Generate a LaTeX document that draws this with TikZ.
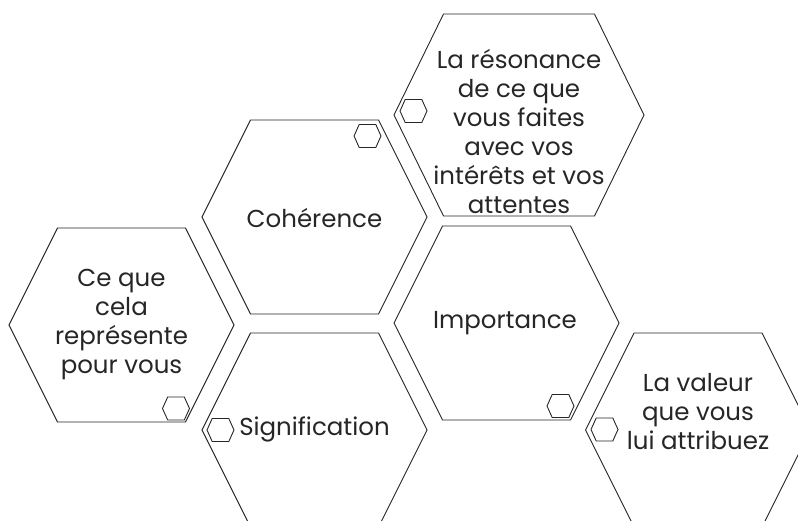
\documentclass[tikz,border=0pt]{standalone}
\usepackage{fontspec}
\setmainfont{Poppins}

\tikzset{
  bighex/.pic={
    \draw[hexline] (-112.5,0) -- (-64,-97) -- (64,-97) -- (112.5,0) -- (64,97) -- (-64,97) -- cycle;
  },
  widehex/.pic={
    \draw[hexline] (-125,0) -- (-75.5,-101) -- (75.5,-101) -- (125,0) -- (75.5,101) -- (-75.5,101) -- cycle;
  },
  tinyhex/.pic={
    \draw[hexline] (-13.5,0) -- (-8.3,-11.5) -- (8.3,-11.5) -- (13.5,0) -- (8.3,11.5) -- (-8.3,11.5) -- cycle;
  },
  hexline/.style={line width=0.9pt, black!85, line join=miter},
  label/.style={align=center, font=\fontsize{24.5}{29}\selectfont, text=black!85, inner sep=0pt}
}

\begin{document}
\begin{tikzpicture}[x=1pt,y=-1pt]
  \useasboundingbox (0,0) rectangle (798,521);
  \clip (0,0) rectangle (798,521);

  % big cells
  \pic at (314.5,217) {bighex};
  \pic at (121.5,325) {bighex};
  \pic at (519,115) {widehex};
  \pic at (506.5,323) {bighex};
  \pic at (314.5,430) {bighex};
  \pic at (698,430) {bighex};

  % small cells
  \pic at (367.5,136) {tinyhex};
  \pic at (413.5,111) {tinyhex};
  \pic at (176,408.5) {tinyhex};
  \pic at (220.5,430) {tinyhex};
  \pic at (560.5,406) {tinyhex};
  \pic at (604.5,429.5) {tinyhex};

  % texts
  \node[label] (coherence) at (314.5,218) {Cohérence};
  \node[label] (sens) at (121.5,325) {Ce que\\cela\\représente\\pour vous};
  \node[label] (resonance) at (519,132) {La résonance\\de ce que\\vous faites\\avec vos\\intérêts et vos\\attentes};
  \node[label] (importance) at (505,323) {Importance};
  \node[label] (signification) at (314.5,429) {Signification};
  \node[label] (valeur) at (698,412) {La valeur\\que vous\\lui attribuez};
\end{tikzpicture}
\end{document}
